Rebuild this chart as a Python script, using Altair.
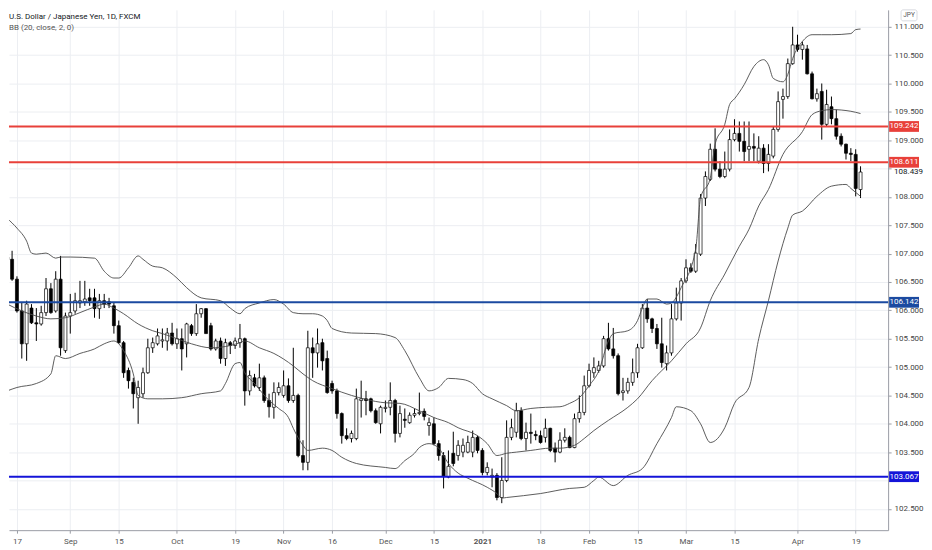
import json

import pandas as pd
import altair as alt

TITLE = "U.S. Dollar / Japanese Yen, 1D, FXCM"
STUDY = "BB (20, close, 2, 0)"
CURRENCY = "JPY"

# bar index of the first candle (index 0 is Mon 17 Aug 2020, one bar per trading day)
FIRST_BAR = -2

OPEN = [
    106.89, 106.90, 106.55, 105.99, 105.41, 106.04, 105.78, 105.76, 105.96, 106.38,
    105.99, 106.55, 105.29, 105.90, 105.99, 106.13, 106.15, 106.22, 106.22, 106.03,
    106.17, 106.15, 106.08, 105.73, 105.43, 104.94, 104.73, 104.46, 104.53, 104.90,
    105.34, 105.41, 105.46, 105.46, 105.60, 105.41, 105.50, 105.41, 105.73, 105.59,
    105.94, 106.03, 105.73, 105.32, 105.46, 105.15, 105.43, 105.38, 105.43, 105.50,
    104.58, 104.81, 104.64, 104.81, 104.41, 104.29, 104.55, 104.50, 104.67, 104.41,
    104.50, 103.44, 103.32, 105.34, 105.25, 105.43, 105.15, 104.71, 104.58, 104.18,
    103.79, 103.74, 103.74, 104.41, 104.44, 104.44, 104.23, 104.00, 104.27, 104.29,
    104.41, 103.83, 104.08, 104.02, 104.15, 104.18, 104.22, 103.97, 104.00, 103.65,
    103.44, 103.06, 103.48, 103.44, 103.50, 103.50, 103.50, 103.76, 103.53, 103.14,
    103.06, 103.09, 102.70, 103.00, 103.76, 103.85, 104.23, 103.74, 103.85, 103.81,
    103.79, 103.76, 103.92, 103.57, 103.50, 103.71, 103.76, 103.58, 104.09, 104.20,
    104.67, 104.90, 104.94, 105.02, 105.50, 105.32, 105.20, 104.55, 104.58, 104.73,
    104.90, 105.34, 106.04, 105.85, 105.68, 105.41, 105.06, 105.25, 105.85, 106.13,
    106.52, 106.75, 106.69, 106.99, 107.98, 108.31, 108.84, 108.49, 108.36, 108.49,
    109.01, 109.12, 108.98, 108.84, 108.89, 108.63, 108.86, 108.59, 108.72, 109.19,
    109.72, 109.77, 110.35, 110.68, 110.60, 110.61, 110.17, 109.73, 109.86, 109.28,
    109.59, 109.38, 109.07, 108.93, 108.77, 108.75, 108.13,
]
HIGH = [
    107.05, 107.05, 106.60, 106.13, 106.17, 106.11, 106.04, 106.08, 106.57, 106.48,
    106.69, 106.96, 105.96, 106.29, 106.31, 106.52, 106.52, 106.38, 106.38, 106.29,
    106.29, 106.22, 106.13, 105.82, 105.46, 104.99, 104.81, 104.76, 104.99, 105.50,
    105.52, 105.68, 105.68, 105.69, 105.78, 105.68, 105.68, 105.78, 105.76, 106.11,
    106.04, 106.04, 105.78, 105.50, 105.52, 105.50, 105.46, 105.52, 105.76, 105.52,
    104.94, 104.88, 105.06, 104.85, 104.53, 104.73, 104.73, 104.94, 104.80, 105.34,
    104.53, 103.71, 105.64, 105.52, 105.68, 105.50, 105.29, 104.76, 104.62, 104.20,
    103.92, 103.88, 104.62, 104.76, 104.58, 104.46, 104.27, 104.32, 104.41, 104.73,
    104.44, 104.32, 104.27, 104.20, 104.27, 104.55, 104.27, 104.11, 104.11, 103.71,
    103.50, 103.53, 103.86, 103.71, 103.74, 103.79, 103.88, 103.79, 103.57, 103.32,
    103.21, 103.13, 103.41, 104.06, 104.09, 104.37, 104.29, 104.02, 104.18, 103.88,
    103.88, 104.09, 103.93, 103.67, 103.85, 103.92, 103.79, 104.18, 104.50, 104.85,
    105.06, 105.17, 105.11, 105.55, 105.78, 105.69, 105.24, 104.81, 104.81, 105.15,
    105.41, 106.11, 106.20, 105.87, 105.76, 105.87, 105.38, 106.11, 106.40, 106.57,
    106.90, 106.83, 107.17, 108.05, 108.45, 108.94, 109.21, 108.63, 108.80, 109.19,
    109.37, 109.33, 109.33, 109.33, 109.12, 109.07, 108.93, 108.93, 109.24, 109.86,
    109.91, 110.44, 111.00, 110.86, 110.74, 110.68, 110.21, 109.91, 110.00, 109.89,
    109.77, 109.54, 109.12, 108.94, 108.86, 108.84, 108.54,
]
LOW = [
    106.83, 106.52, 105.96, 105.15, 105.11, 105.76, 105.46, 105.73, 105.90, 105.94,
    105.96, 105.20, 105.25, 105.59, 105.94, 106.04, 106.08, 106.08, 105.87, 105.85,
    106.04, 106.04, 105.59, 105.41, 104.81, 104.62, 104.27, 104.00, 104.46, 104.88,
    105.25, 105.38, 105.34, 105.29, 105.38, 105.32, 104.94, 105.17, 105.55, 105.55,
    105.87, 105.59, 105.29, 105.29, 105.06, 105.02, 105.23, 105.32, 105.34, 104.32,
    104.50, 104.64, 104.58, 104.37, 104.11, 104.09, 104.50, 104.46, 104.37, 104.37,
    103.41, 103.18, 103.18, 104.81, 104.99, 104.94, 104.53, 104.53, 104.09, 103.65,
    103.71, 103.67, 103.71, 104.11, 104.15, 104.20, 104.00, 103.83, 104.20, 104.15,
    103.67, 103.76, 103.93, 104.00, 104.11, 104.15, 104.06, 103.79, 103.62, 103.35,
    102.86, 103.04, 103.25, 103.35, 103.41, 103.48, 103.41, 103.48, 103.09, 103.09,
    102.88, 102.65, 102.60, 102.97, 103.71, 103.76, 103.71, 103.53, 103.65, 103.71,
    103.65, 103.67, 103.50, 103.32, 103.48, 103.67, 103.57, 103.57, 104.02, 104.15,
    104.64, 104.81, 104.90, 104.99, 105.29, 105.15, 104.50, 104.41, 104.53, 104.67,
    104.81, 105.32, 105.78, 105.60, 105.32, 104.99, 104.94, 105.20, 105.82, 105.82,
    106.48, 106.66, 106.66, 106.96, 107.84, 108.28, 108.45, 108.33, 108.33, 108.45,
    108.98, 108.80, 108.63, 108.63, 108.63, 108.59, 108.42, 108.45, 108.68, 109.15,
    109.38, 109.73, 110.33, 110.56, 110.42, 110.16, 109.72, 109.68, 109.01, 109.24,
    109.28, 109.01, 108.89, 108.66, 108.63, 108.01, 107.98,
]
CLOSE = [
    106.94, 106.55, 105.99, 105.41, 106.11, 105.78, 105.76, 105.96, 106.38, 105.96,
    106.55, 105.34, 105.90, 105.96, 106.17, 106.17, 106.20, 106.17, 106.03, 106.17,
    106.11, 106.11, 105.73, 105.43, 104.90, 104.76, 104.53, 104.64, 104.90, 105.34,
    105.43, 105.55, 105.48, 105.60, 105.41, 105.50, 105.32, 105.76, 105.59, 105.94,
    106.03, 105.59, 105.32, 105.46, 105.15, 105.43, 105.38, 105.46, 105.50, 104.58,
    104.85, 104.67, 104.81, 104.41, 104.30, 104.55, 104.64, 104.67, 104.41, 104.50,
    103.44, 103.32, 105.34, 105.25, 105.41, 105.11, 104.55, 104.58, 104.18, 103.79,
    103.74, 103.83, 104.44, 104.44, 104.41, 104.23, 104.02, 104.29, 104.29, 104.41,
    103.83, 104.18, 104.06, 104.15, 104.18, 104.20, 104.13, 104.02, 103.65, 103.44,
    103.07, 103.25, 103.30, 103.62, 103.62, 103.67, 103.76, 103.53, 103.14, 103.23,
    103.09, 102.70, 103.00, 103.76, 103.93, 104.23, 103.74, 103.85, 103.83, 103.79,
    103.67, 103.92, 103.53, 103.50, 103.71, 103.76, 103.58, 104.09, 104.20, 104.67,
    104.94, 104.99, 105.02, 105.50, 105.32, 105.20, 104.53, 104.58, 104.73, 104.90,
    105.34, 106.04, 105.85, 105.68, 105.41, 105.08, 105.25, 105.85, 106.13, 106.52,
    106.75, 106.69, 107.01, 107.98, 108.36, 108.84, 108.49, 108.36, 108.49, 109.01,
    109.12, 108.98, 108.80, 108.89, 108.86, 108.86, 108.59, 108.75, 109.19, 109.68,
    109.77, 110.35, 110.68, 110.60, 110.68, 110.17, 109.73, 109.82, 109.28, 109.63,
    109.38, 109.07, 108.93, 108.77, 108.75, 108.15, 108.439,
]

# Bollinger bands (bar index, price)
UPPER_IDX = [-2, 0, 2, 3, 4, 6, 8, 9, 11, 16, 18, 20, 21, 23, 25, 26, 28, 30, 33, 35,
             38, 42, 44, 46, 47, 50, 53, 55, 57, 59, 61, 63, 64, 65, 69, 74, 78, 80, 83, 85,
             87, 89, 92, 94, 96, 98, 101, 103, 106, 109, 112, 114, 116, 118, 120, 122, 123, 126, 128, 129,
             130, 132, 134, 135, 137, 140, 141, 143, 144, 146, 147, 148, 150, 152, 154, 155, 156, 158, 159, 160,
             162, 164, 166, 168, 172, 173, 174]
UPPER_VAL = [107.62, 107.45, 107.22, 107.01, 106.99, 107.01, 106.92, 106.94, 106.94, 106.92,
             106.69, 106.57, 106.57, 106.75, 106.96, 106.90, 106.78, 106.75, 106.57, 106.40,
             106.22, 106.17, 106.04, 105.94, 106.03, 106.13, 106.19, 106.11, 105.96, 105.94,
             105.94, 105.90, 105.82, 105.68, 105.60, 105.59, 105.52, 105.29, 104.81, 104.58,
             104.64, 104.80, 104.78, 104.71, 104.53, 104.44, 104.32, 104.23, 104.27, 104.29,
             104.30, 104.36, 104.46, 104.67, 104.93, 105.46, 105.59, 105.64, 105.82, 106.04,
             106.20, 106.20, 106.11, 106.13, 106.40, 107.08, 107.98, 108.33, 108.93, 109.28,
             109.63, 109.73, 109.98, 110.30, 110.42, 110.33, 110.09, 110.03, 110.16, 110.44,
             110.74, 110.86, 110.86, 110.86, 110.88, 110.95, 110.96]
MID_IDX = [-2, 1, 4, 7, 10, 13, 16, 18, 20, 22, 25, 28, 30, 33, 36, 40, 44, 46, 47, 50,
           53, 57, 59, 61, 65, 69, 72, 76, 79, 83, 86, 89, 91, 95, 97, 99, 101, 103, 106, 110,
           112, 115, 117, 119, 122, 126, 128, 131, 135, 138, 141, 143, 146, 149, 151, 153, 155, 158, 162, 164,
           166, 168, 172, 174]
MID_VAL = [106.11, 105.99, 105.90, 105.85, 105.87, 105.96, 106.06, 106.11, 106.04, 105.94,
           105.76, 105.64, 105.59, 105.50, 105.41, 105.34, 105.38, 105.43, 105.46, 105.34,
           105.24, 105.02, 104.88, 104.76, 104.62, 104.50, 104.43, 104.37, 104.36, 104.23,
           104.11, 104.02, 103.93, 103.79, 103.65, 103.44, 103.48, 103.50, 103.53, 103.57,
           103.57, 103.62, 103.74, 103.88, 104.06, 104.29, 104.44, 104.76, 105.11, 105.41,
           105.69, 106.17, 106.64, 107.13, 107.43, 107.84, 108.13, 108.75, 109.15, 109.45,
           109.52, 109.54, 109.51, 109.47]
LOWER_IDX = [-2, 0, 4, 7, 8, 10, 13, 16, 18, 20, 22, 24, 25, 27, 30, 34, 38, 42, 43, 45,
             46, 47, 49, 52, 54, 56, 57, 59, 60, 63, 65, 67, 70, 76, 78, 80, 82, 83, 85, 87,
             89, 91, 93, 97, 99, 100, 101, 108, 114, 117, 119, 120, 123, 126, 129, 132, 135, 136, 139, 141,
             143, 146, 148, 151, 153, 155, 157, 159, 160, 162, 165, 168, 171, 172, 174]
LOWER_VAL = [104.58, 104.64, 104.71, 104.88, 105.20, 105.15, 105.24, 105.32, 105.41, 105.46,
             105.29, 104.88, 104.50, 104.44, 104.44, 104.46, 104.53, 104.58, 104.71, 105.06,
             105.08, 104.90, 104.71, 104.41, 104.27, 104.11, 103.92, 103.62, 103.53, 103.57,
             103.53, 103.41, 103.30, 103.23, 103.21, 103.35, 103.48, 103.58, 103.65, 103.57,
             103.30, 103.13, 103.04, 102.88, 102.77, 102.69, 102.70, 102.77, 102.86, 102.88,
             103.00, 103.06, 102.91, 103.09, 103.21, 103.65, 104.11, 104.30, 104.23, 104.00,
             103.67, 103.93, 104.36, 104.64, 105.50, 106.17, 106.87, 107.45, 107.68, 107.75,
             108.01, 108.19, 108.22, 108.15, 108.01]

# horizontal levels drawn on the chart
LEVELS = [109.242, 108.611, 106.142, 103.067]
LEVEL_COLORS = ["#e8403a", "#e8403a", "#1b4aa0", "#1414d8"]

X_TICKS = [0, 11, 21, 33, 45, 55, 65, 76, 86, 96, 108, 118, 128, 138, 148, 161, 173]
X_LABELS = ["17", "Sep", "15", "Oct", "19", "Nov", "16", "Dec", "15", "2021",
            "18", "Feb", "15", "Mar", "15", "Apr", "19"]
Y_TICKS = [102.5, 103.0, 103.5, 104.0, 104.5, 105.0, 105.5, 106.0, 106.5,
           107.0, 107.5, 108.0, 108.5, 109.0, 109.5, 110.0, 110.5, 111.0]

FONT = "Roboto"
W, H = 882, 522
X_SCALE = alt.Scale(domain=[-0.61, 178.66], nice=False, zero=False)
Y_SCALE = alt.Scale(domain=[102.124, 111.298], nice=False, zero=False)

bars = pd.DataFrame({
    "i": list(range(FIRST_BAR, FIRST_BAR + len(OPEN))),
    "open": OPEN, "high": HIGH, "low": LOW, "close": CLOSE,
})
bands = pd.concat([
    pd.DataFrame({"i": UPPER_IDX, "v": UPPER_VAL, "band": "upper"}),
    pd.DataFrame({"i": MID_IDX, "v": MID_VAL, "band": "basis"}),
    pd.DataFrame({"i": LOWER_IDX, "v": LOWER_VAL, "band": "lower"}),
])
levels = pd.DataFrame({"level": LEVELS, "label": [f"{v:.3f}" for v in LEVELS]})

x_axis = alt.Axis(
    values=X_TICKS, title=None, grid=True, gridColor="#eceef2",
    labelExpr=f"{json.dumps(X_LABELS)}[indexof({json.dumps(X_TICKS)}, datum.value)]",
    labelFontWeight={"condition": {"test": "datum.value == 96", "value": "bold"}, "value": "normal"},
    labelFont=FONT, labelFontSize=8, labelColor="#555", labelPadding=4,
    labelFlush=False, labelOverlap=False,
    domainColor="#9a9da5", tickColor="#9a9da5", tickSize=3,
)
y_axis = alt.Axis(
    orient="right", values=Y_TICKS, title=None, grid=True, gridColor="#eceef2",
    labelExpr="datum.value == 103 || datum.value == 108.5 ? '' : format(datum.value, '.3f')",
    labelFont=FONT, labelFontSize=8, labelColor="#444", labelPadding=3,
    labelFlush=False, labelOverlap=False,
    domainColor="#9a9da5", tickColor="#9a9da5", tickSize=3,
)


def xq(field):
    return alt.X(field, scale=X_SCALE, axis=x_axis)


def yq(field):
    return alt.Y(field, scale=Y_SCALE, axis=y_axis)


wicks = alt.Chart(bars).mark_rule(color="black", strokeWidth=1, clip=True).encode(
    x=xq("i:Q"), y=yq("low:Q"), y2="high:Q",
)
bodies = alt.Chart(bars).mark_bar(width=3, stroke="black", strokeWidth=0.7, clip=True).encode(
    x=xq("i:Q"), y=yq("open:Q"), y2="close:Q",
    fill=alt.condition("datum.close >= datum.open", alt.value("white"), alt.value("black")),
)
bb = alt.Chart(bands).mark_line(color="#4a4a4a", strokeWidth=0.9, interpolate="monotone", clip=True).encode(
    x=xq("i:Q"), y=yq("v:Q"), detail="band:N",
)

level_color = alt.Color("label:N", scale=alt.Scale(domain=levels["label"].tolist(), range=LEVEL_COLORS),
                        legend=None)
level_lines = alt.Chart(levels).mark_rule(strokeWidth=2).encode(
    y=yq("level:Q"), color=level_color,
)
level_boxes = alt.Chart(levels).transform_calculate(
    top="datum.level + 0.095", bot="datum.level - 0.095"
).mark_rect().encode(
    x=alt.value(W + 1), x2=alt.value(W + 31),
    y=yq("top:Q"), y2="bot:Q",
    color=level_color,
)
level_text = alt.Chart(levels).mark_text(
    color="white", font=FONT, fontSize=8, align="center", baseline="middle"
).encode(
    x=alt.value(W + 16), y=yq("level:Q"), text="label:N",
)

last_price = alt.Chart(bars.tail(1)).mark_text(
    font=FONT, fontSize=8, align="left", baseline="middle", color="#131722"
).encode(
    x=alt.value(W + 6), y=yq("close:Q"), text=alt.Text("close:Q", format=".3f"),
)

head = alt.Chart(pd.DataFrame({"t": [TITLE]})).mark_text(
    font=FONT, fontSize=8, align="left", color="#131722"
).encode(x=alt.value(0), y=alt.value(7), text="t:N")
study = alt.Chart(pd.DataFrame({"t": [STUDY]})).mark_text(
    font=FONT, fontSize=8, align="left", color="#555"
).encode(x=alt.value(0), y=alt.value(18), text="t:N")

jpy_box = alt.Chart(pd.DataFrame({"t": [CURRENCY]})).mark_rect(
    fill="white", stroke="#cfd2d8", strokeWidth=0.8, cornerRadius=2
).encode(x=alt.value(W + 13), x2=alt.value(W + 29), y=alt.value(0), y2=alt.value(11))
jpy_text = alt.Chart(pd.DataFrame({"t": [CURRENCY]})).mark_text(
    font=FONT, fontSize=6.5, align="center", baseline="middle", color="#555"
).encode(x=alt.value(W + 21), y=alt.value(5.5), text="t:N")

chart = alt.layer(
    wicks, bodies, bb, level_lines, level_boxes, level_text,
    last_price, head, study, jpy_box, jpy_text,
).properties(
    width=W, height=H, padding=0,
).configure(font=FONT).configure_view(strokeWidth=0)

chart.save("out.html", embed_options={"renderer": "svg", "actions": False})
